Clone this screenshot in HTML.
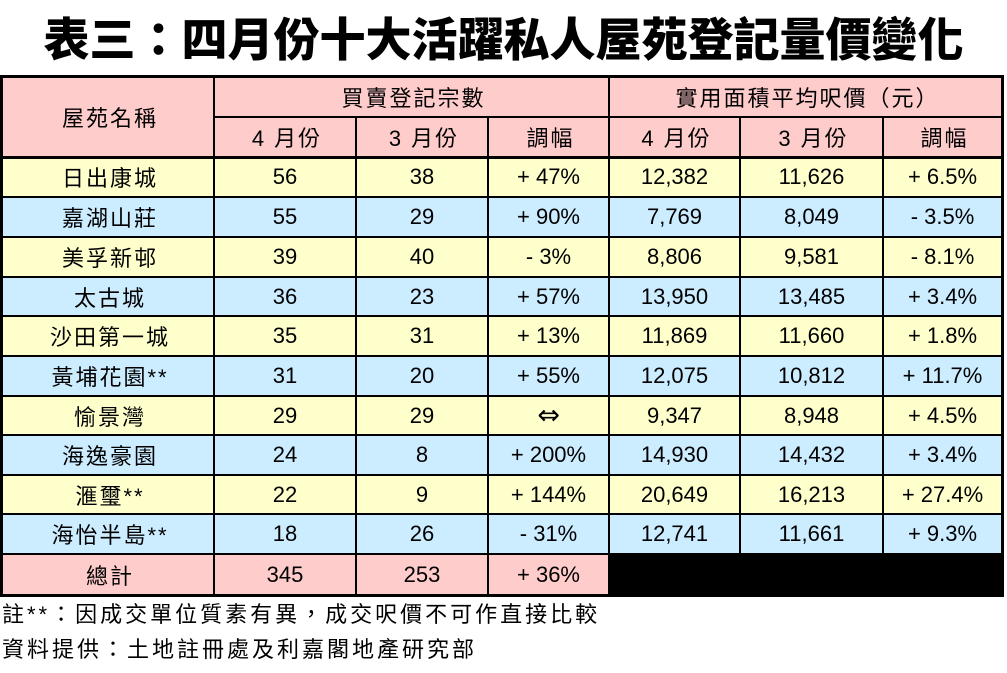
<!DOCTYPE html>
<html><head><meta charset="utf-8">
<style>
html,body{margin:0;padding:0;background:#fff;}
body{width:1007px;height:673px;position:relative;overflow:hidden;font-family:"Liberation Sans","Noto Sans CJK TC",sans-serif;color:#000;}
.t{position:absolute;left:0;top:14px;width:1007px;height:46px;line-height:46px;text-align:center;font-family:"Noto Sans CJK TC","Noto Sans CJK SC",sans-serif;font-weight:900;font-size:46px;white-space:nowrap;}
.bg{position:absolute;}
.p{background:#FFCCCC;}
.y{background:#FFFFCC;}
.b{background:#CCECFF;}
.l{position:absolute;background:#000;}
.c{position:absolute;display:flex;align-items:center;justify-content:center;font-size:22px;white-space:nowrap;}
.z{letter-spacing:2px;padding-left:2px;}
.f{position:absolute;left:2px;font-size:22px;letter-spacing:3px;white-space:nowrap;line-height:30px;}
</style></head><body>
<div class="t">表三：四月份十大活躍私人屋苑登記量價變化</div>

<!-- backgrounds -->
<div class="bg p" style="left:0;top:75px;width:1004px;height:82px"></div>
<div class="bg y" style="left:0;top:157px;width:1004px;height:40px"></div>
<div class="bg b" style="left:0;top:197px;width:1004px;height:40px"></div>
<div class="bg y" style="left:0;top:237px;width:1004px;height:40px"></div>
<div class="bg b" style="left:0;top:277px;width:1004px;height:39px"></div>
<div class="bg y" style="left:0;top:316px;width:1004px;height:40px"></div>
<div class="bg b" style="left:0;top:356px;width:1004px;height:40px"></div>
<div class="bg y" style="left:0;top:396px;width:1004px;height:39px"></div>
<div class="bg b" style="left:0;top:435px;width:1004px;height:40px"></div>
<div class="bg y" style="left:0;top:475px;width:1004px;height:39px"></div>
<div class="bg b" style="left:0;top:514px;width:1004px;height:40px"></div>
<div class="bg p" style="left:0;top:554px;width:1004px;height:42px"></div>
<div class="bg" style="left:608px;top:553px;width:396px;height:44px;background:#000"></div>

<!-- horizontal lines -->
<div class="l" style="left:0;top:75px;width:1004px;height:3px"></div>
<div class="l" style="left:213px;top:116px;width:791px;height:2px"></div>
<div class="l" style="left:0;top:156px;width:1004px;height:3px"></div>
<div class="l" style="left:0;top:196px;width:1004px;height:2px"></div>
<div class="l" style="left:0;top:236px;width:1004px;height:2px"></div>
<div class="l" style="left:0;top:276px;width:1004px;height:2px"></div>
<div class="l" style="left:0;top:315px;width:1004px;height:2px"></div>
<div class="l" style="left:0;top:355px;width:1004px;height:2px"></div>
<div class="l" style="left:0;top:395px;width:1004px;height:2px"></div>
<div class="l" style="left:0;top:434px;width:1004px;height:2px"></div>
<div class="l" style="left:0;top:474px;width:1004px;height:2px"></div>
<div class="l" style="left:0;top:513px;width:1004px;height:2px"></div>
<div class="l" style="left:0;top:553px;width:1004px;height:2px"></div>
<div class="l" style="left:0;top:594px;width:1004px;height:3px"></div>

<!-- vertical lines -->
<div class="l" style="left:0;top:75px;width:3px;height:522px"></div>
<div class="l" style="left:213px;top:75px;width:2px;height:522px"></div>
<div class="l" style="left:355px;top:116px;width:2px;height:481px"></div>
<div class="l" style="left:487px;top:116px;width:2px;height:481px"></div>
<div class="l" style="left:608px;top:75px;width:2px;height:522px"></div>
<div class="l" style="left:739px;top:116px;width:2px;height:438px"></div>
<div class="l" style="left:882px;top:116px;width:2px;height:438px"></div>
<div class="l" style="left:1001px;top:75px;width:3px;height:522px"></div>

<!-- header text -->
<div class="c z" style="left:3px;top:78px;width:210px;height:78px">屋苑名稱</div>
<div class="c z" style="left:215px;top:78px;width:393px;height:38px">買賣登記宗數</div>
<div class="c z" style="left:610px;top:78px;width:391px;height:38px">實用面積平均呎價（元）</div>
<div class="c z" style="left:215px;top:118px;width:140px;height:38px">4 月份</div>
<div class="c z" style="left:357px;top:118px;width:130px;height:38px">3 月份</div>
<div class="c z" style="left:489px;top:118px;width:119px;height:38px">調幅</div>
<div class="c z" style="left:610px;top:118px;width:129px;height:38px">4 月份</div>
<div class="c z" style="left:741px;top:118px;width:141px;height:38px">3 月份</div>
<div class="c z" style="left:884px;top:118px;width:117px;height:38px">調幅</div>

<!-- row 1 -->
<div class="c z" style="left:3px;top:158px;width:210px;height:38px">日出康城</div>
<div class="c" style="left:215px;top:158px;width:140px;height:38px">56</div>
<div class="c" style="left:357px;top:158px;width:130px;height:38px">38</div>
<div class="c" style="left:489px;top:158px;width:119px;height:38px">+ 47%</div>
<div class="c" style="left:610px;top:158px;width:129px;height:38px">12,382</div>
<div class="c" style="left:741px;top:158px;width:141px;height:38px">11,626</div>
<div class="c" style="left:884px;top:158px;width:117px;height:38px">+ 6.5%</div>
<!-- row 2 -->
<div class="c z" style="left:3px;top:198px;width:210px;height:38px">嘉湖山莊</div>
<div class="c" style="left:215px;top:198px;width:140px;height:38px">55</div>
<div class="c" style="left:357px;top:198px;width:130px;height:38px">29</div>
<div class="c" style="left:489px;top:198px;width:119px;height:38px">+ 90%</div>
<div class="c" style="left:610px;top:198px;width:129px;height:38px">7,769</div>
<div class="c" style="left:741px;top:198px;width:141px;height:38px">8,049</div>
<div class="c" style="left:884px;top:198px;width:117px;height:38px">- 3.5%</div>
<!-- row 3 -->
<div class="c z" style="left:3px;top:238px;width:210px;height:38px">美孚新邨</div>
<div class="c" style="left:215px;top:238px;width:140px;height:38px">39</div>
<div class="c" style="left:357px;top:238px;width:130px;height:38px">40</div>
<div class="c" style="left:489px;top:238px;width:119px;height:38px">- 3%</div>
<div class="c" style="left:610px;top:238px;width:129px;height:38px">8,806</div>
<div class="c" style="left:741px;top:238px;width:141px;height:38px">9,581</div>
<div class="c" style="left:884px;top:238px;width:117px;height:38px">- 8.1%</div>
<!-- row 4 -->
<div class="c z" style="left:3px;top:278px;width:210px;height:37px">太古城</div>
<div class="c" style="left:215px;top:278px;width:140px;height:37px">36</div>
<div class="c" style="left:357px;top:278px;width:130px;height:37px">23</div>
<div class="c" style="left:489px;top:278px;width:119px;height:37px">+ 57%</div>
<div class="c" style="left:610px;top:278px;width:129px;height:37px">13,950</div>
<div class="c" style="left:741px;top:278px;width:141px;height:37px">13,485</div>
<div class="c" style="left:884px;top:278px;width:117px;height:37px">+ 3.4%</div>
<!-- row 5 -->
<div class="c z" style="left:3px;top:317px;width:210px;height:38px">沙田第一城</div>
<div class="c" style="left:215px;top:317px;width:140px;height:38px">35</div>
<div class="c" style="left:357px;top:317px;width:130px;height:38px">31</div>
<div class="c" style="left:489px;top:317px;width:119px;height:38px">+ 13%</div>
<div class="c" style="left:610px;top:317px;width:129px;height:38px">11,869</div>
<div class="c" style="left:741px;top:317px;width:141px;height:38px">11,660</div>
<div class="c" style="left:884px;top:317px;width:117px;height:38px">+ 1.8%</div>
<!-- row 6 -->
<div class="c z" style="left:3px;top:357px;width:210px;height:38px">黃埔花園**</div>
<div class="c" style="left:215px;top:357px;width:140px;height:38px">31</div>
<div class="c" style="left:357px;top:357px;width:130px;height:38px">20</div>
<div class="c" style="left:489px;top:357px;width:119px;height:38px">+ 55%</div>
<div class="c" style="left:610px;top:357px;width:129px;height:38px">12,075</div>
<div class="c" style="left:741px;top:357px;width:141px;height:38px">10,812</div>
<div class="c" style="left:884px;top:357px;width:117px;height:38px">+ 11.7%</div>
<!-- row 7 -->
<div class="c z" style="left:3px;top:397px;width:210px;height:37px">愉景灣</div>
<div class="c" style="left:215px;top:397px;width:140px;height:37px">29</div>
<div class="c" style="left:357px;top:397px;width:130px;height:37px">29</div>
<div class="c" style="left:489px;top:397px;width:119px;height:37px;font-family:'DejaVu Sans',sans-serif;font-size:27px">⇔</div>
<div class="c" style="left:610px;top:397px;width:129px;height:37px">9,347</div>
<div class="c" style="left:741px;top:397px;width:141px;height:37px">8,948</div>
<div class="c" style="left:884px;top:397px;width:117px;height:37px">+ 4.5%</div>
<!-- row 8 -->
<div class="c z" style="left:3px;top:436px;width:210px;height:38px">海逸豪園</div>
<div class="c" style="left:215px;top:436px;width:140px;height:38px">24</div>
<div class="c" style="left:357px;top:436px;width:130px;height:38px">8</div>
<div class="c" style="left:489px;top:436px;width:119px;height:38px">+ 200%</div>
<div class="c" style="left:610px;top:436px;width:129px;height:38px">14,930</div>
<div class="c" style="left:741px;top:436px;width:141px;height:38px">14,432</div>
<div class="c" style="left:884px;top:436px;width:117px;height:38px">+ 3.4%</div>
<!-- row 9 -->
<div class="c z" style="left:3px;top:476px;width:210px;height:37px">滙璽**</div>
<div class="c" style="left:215px;top:476px;width:140px;height:37px">22</div>
<div class="c" style="left:357px;top:476px;width:130px;height:37px">9</div>
<div class="c" style="left:489px;top:476px;width:119px;height:37px">+ 144%</div>
<div class="c" style="left:610px;top:476px;width:129px;height:37px">20,649</div>
<div class="c" style="left:741px;top:476px;width:141px;height:37px">16,213</div>
<div class="c" style="left:884px;top:476px;width:117px;height:37px">+ 27.4%</div>
<!-- row 10 -->
<div class="c z" style="left:3px;top:515px;width:210px;height:38px">海怡半島**</div>
<div class="c" style="left:215px;top:515px;width:140px;height:38px">18</div>
<div class="c" style="left:357px;top:515px;width:130px;height:38px">26</div>
<div class="c" style="left:489px;top:515px;width:119px;height:38px">- 31%</div>
<div class="c" style="left:610px;top:515px;width:129px;height:38px">12,741</div>
<div class="c" style="left:741px;top:515px;width:141px;height:38px">11,661</div>
<div class="c" style="left:884px;top:515px;width:117px;height:38px">+ 9.3%</div>
<!-- total -->
<div class="c z" style="left:3px;top:555px;width:210px;height:39px">總計</div>
<div class="c" style="left:215px;top:555px;width:140px;height:39px">345</div>
<div class="c" style="left:357px;top:555px;width:130px;height:39px">253</div>
<div class="c" style="left:489px;top:555px;width:119px;height:39px">+ 36%</div>

<!-- footnotes -->
<div class="f" style="top:600px">註**：因成交單位質素有異，成交呎價不可作直接比較</div>
<div class="f" style="top:635px">資料提供：土地註冊處及利嘉閣地產研究部</div>
</body></html>
